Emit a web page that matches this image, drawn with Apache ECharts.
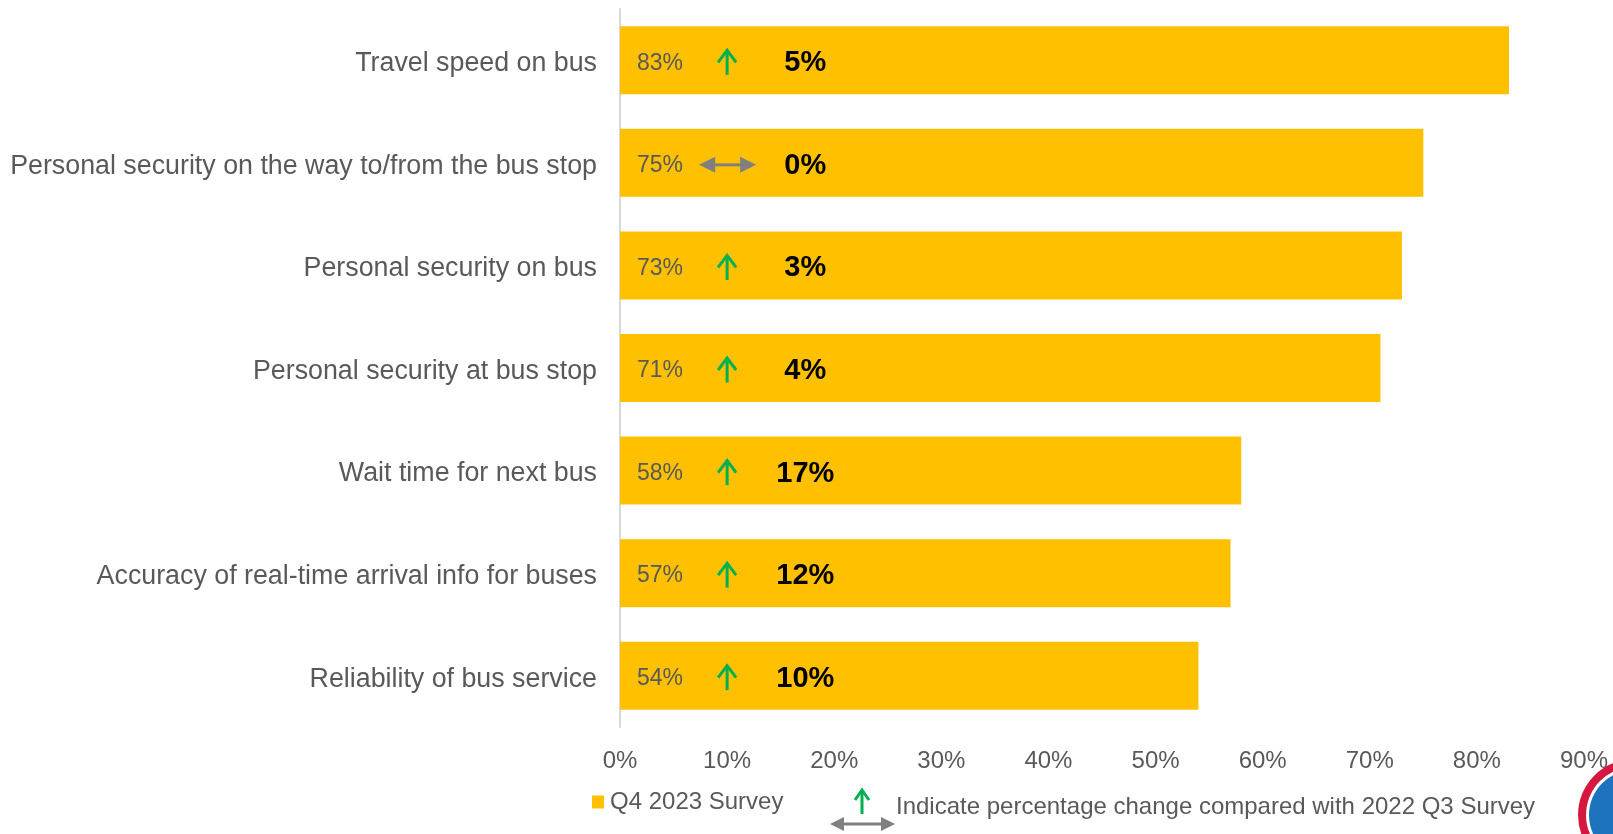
<!DOCTYPE html>
<html>
<head>
<meta charset="utf-8">
<title>Bus service satisfaction</title>
<script src="https://cdn.jsdelivr.net/npm/echarts@6/dist/echarts.min.js"></script>
<style>
  html, body { margin: 0; padding: 0; background: #ffffff; }
  #chart { width: 1613px; height: 834px; }
</style>
</head>
<body>
<div id="chart"></div>
<script>
// Service attributes, top to bottom
const categories = [
  'Travel speed on bus',
  'Personal security on the way to/from the bus stop',
  'Personal security on bus',
  'Personal security at bus stop',
  'Wait time for next bus',
  'Accuracy of real-time arrival info for buses',
  'Reliability of bus service'
];
// Share satisfied in the Q4 2023 survey (%)
const q4_2023 = [83, 75, 73, 71, 58, 57, 54];
// Change in percentage points versus the 2022 Q3 survey
const changeVsQ3_2022 = [5, 0, 3, 4, 17, 12, 10];
// Axis tick values (%)
const xTicks = [0, 10, 20, 30, 40, 50, 60, 70, 80, 90];

const FONT = '"Liberation Sans", Arial, Helvetica, sans-serif';
const GREY_TEXT = '#595959';
const BAR_COLOR = '#FFC000';
const UP_COLOR = '#00B050';
const DOWN_COLOR = '#C00000';
const FLAT_COLOR = '#808080';

// Arrow and change figure sit at fixed positions along the value axis
const ARROW_AT = 10;
const CHANGE_LABEL_AT = 17.3;

function vArrow(x, yTip, yTail, halfW, headH, color, lw) {
  const dir = yTail > yTip ? 1 : -1;
  return [
    { type: 'line', shape: { x1: x, y1: yTip + dir, x2: x, y2: yTail },
      style: { stroke: color, lineWidth: lw } },
    { type: 'polyline',
      shape: { points: [[x - halfW, yTip + dir * headH], [x, yTip], [x + halfW, yTip + dir * headH]] },
      style: { stroke: color, lineWidth: lw, fill: null, lineJoin: 'miter' } }
  ];
}

function doubleArrow(x1, x2, y, headL, headHalfH, color, lw) {
  return [
    { type: 'line', shape: { x1: x1 + headL - 1, y1: y, x2: x2 - headL + 1, y2: y },
      style: { stroke: color, lineWidth: lw } },
    { type: 'polygon',
      shape: { points: [[x1, y], [x1 + headL, y - headHalfH], [x1 + headL, y + headHalfH]] },
      style: { fill: color } },
    { type: 'polygon',
      shape: { points: [[x2, y], [x2 - headL, y - headHalfH], [x2 - headL, y + headHalfH]] },
      style: { fill: color } }
  ];
}

const changeData = changeVsQ3_2022.map((v, i) => [v, i]);

const chart = echarts.init(document.getElementById('chart'), null, { renderer: 'canvas' });

chart.setOption({
  animation: false,
  backgroundColor: '#ffffff',
  textStyle: { fontFamily: FONT },
  grid: { left: 620, right: 29, top: 9, bottom: 107, containLabel: false },
  xAxis: {
    type: 'value',
    min: xTicks[0],
    max: xTicks[xTicks.length - 1],
    interval: xTicks[1] - xTicks[0],
    axisLine: { show: false },
    axisTick: { show: false },
    splitLine: { show: false },
    axisLabel: {
      formatter: '{value}%',
      color: GREY_TEXT,
      fontSize: 24,
      fontFamily: FONT,
      margin: 22,
      showMaxLabel: true,
      showMinLabel: true
    }
  },
  yAxis: {
    type: 'category',
    data: categories,
    inverse: true,
    axisTick: { show: false },
    axisLine: { show: true, lineStyle: { color: '#d9d9d9', width: 2 } },
    axisLabel: {
      margin: 23,
      formatter: function (v) { return '{c|' + v + '}'; },
      rich: {
        c: {
          color: GREY_TEXT,
          fontSize: 26.8,
          fontFamily: FONT,
          padding: [7, 0, 0, 0]
        }
      }
    }
  },
  legend: {
    data: [{ name: 'Q4 2023 Survey', icon: 'rect' }],
    left: 592,
    top: 790,
    padding: 0,
    itemWidth: 12,
    itemHeight: 13,
    textStyle: { color: GREY_TEXT, fontSize: 24, fontFamily: FONT, padding: [0, 0, 0, 1] }
  },
  series: [
    {
      name: 'Q4 2023 Survey',
      type: 'bar',
      data: q4_2023,
      barWidth: 68,
      itemStyle: { color: BAR_COLOR },
      label: {
        show: true,
        position: 'insideLeft',
        distance: 17,
        offset: [0, 3],
        formatter: '{c}%',
        color: GREY_TEXT,
        fontSize: 23,
        fontFamily: FONT
      },
      z: 2
    },
    {
      name: 'Change',
      type: 'custom',
      data: changeData,
      encode: { x: 0, y: 1 },
      z: 5,
      silent: true,
      renderItem: function (params, api) {
        const change = api.value(0);
        const idx = api.value(1);
        const a = api.coord([ARROW_AT, idx]);
        const t = api.coord([CHANGE_LABEL_AT, idx]);
        const y = a[1];
        let children;
        if (change > 0) {
          children = vArrow(a[0], y - 10, y + 14.5, 9, 12, UP_COLOR, 3);
        } else if (change < 0) {
          children = vArrow(a[0], y + 14.5, y - 10, 9, 12, DOWN_COLOR, 3);
        } else {
          children = doubleArrow(a[0] - 28, a[0] + 29, y + 2, 16, 8, FLAT_COLOR, 3);
        }
        children.push({
          type: 'text',
          style: {
            text: change + '%',
            x: t[0],
            y: y + 3,
            align: 'center',
            verticalAlign: 'middle',
            fill: '#000000',
            fontSize: 29,
            fontWeight: 'bold',
            fontFamily: FONT
          }
        });
        return { type: 'group', children: children };
      }
    }
  ],
  graphic: [
    // key for the change markers
    { type: 'group', silent: true,
      children: vArrow(862, 790, 814, 7, 10, UP_COLOR, 3)
        .concat(doubleArrow(830, 895, 824, 14, 7, FLAT_COLOR, 3))
        .concat([{
          type: 'text',
          style: {
            text: 'Indicate percentage change compared with 2022 Q3 Survey',
            x: 896, y: 807,
            verticalAlign: 'middle',
            fill: GREY_TEXT,
            fontSize: 24,
            fontFamily: FONT
          }
        }])
    },
    // corner emblem
    { type: 'group', silent: true, z: -1,
      children: [
        { type: 'circle', shape: { cx: 1634, cy: 815, r: 56 }, style: { fill: '#D6173F' } },
        { type: 'circle', shape: { cx: 1634, cy: 815, r: 48 }, style: { fill: '#ffffff' } },
        { type: 'circle', shape: { cx: 1634, cy: 815, r: 45 }, style: { fill: '#1E73BE' } }
      ]
    }
  ]
});
</script>
</body>
</html>
